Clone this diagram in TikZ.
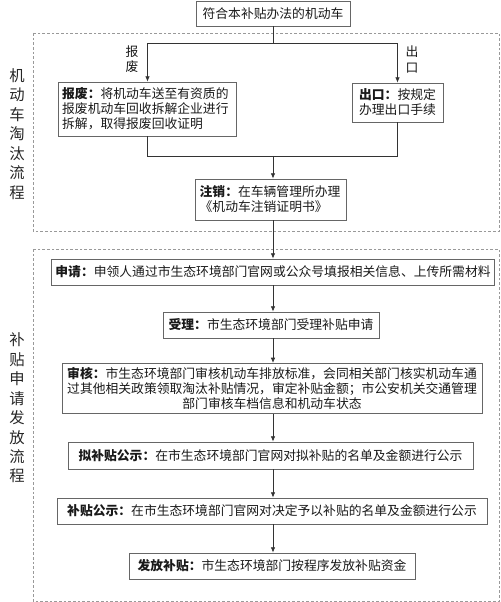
\documentclass[tikz,border=0pt]{standalone}
\usepackage{fontspec}
\setmainfont{Noto Sans CJK SC}
\usepackage{tikz}
\usetikzlibrary{arrows.meta, positioning, calc}

\begin{document}
\begin{tikzpicture}[x=0.75pt,y=-0.75pt,
	box/.style={draw=black!60, line width=0.6pt, inner sep=3pt, text=black!90, font=\fontsize{9.6}{11.3}\selectfont},
	flow/.style={draw=black!80, line width=0.6pt, -{Latex[length=4pt,width=3.5pt]}},
	link/.style={draw=black!80, line width=0.6pt},
	region/.style={draw=black!40, dash pattern=on 2pt off 1.5pt, line width=0.6pt},
	branch/.style={align=center, text=black!90, font=\fontsize{9.6}{11.3}\selectfont},
	side/.style={align=center, text=black!85, font=\fontsize{11.5}{14.6}\selectfont}]
	\useasboundingbox (0,0) rectangle (500,602);
	
	% regions
	\draw[region] (33,33) rectangle (499,231);
	\draw[region] (33,249) rectangle (499,601);
	\node(sideA) [side] at (17,134) {机\\动\\车\\淘\\汰\\流\\程};
	\node(sideB) [side] at (17,408) {补\\贴\\申\\请\\发\\放\\流\\程};
	
	% first stage
	\node(car) [box, minimum width=115.5pt, minimum height=18.75pt] at (273,13.5) {符合本补贴办法的机动车};
	\node(scrap) [box, text width=128pt, align=left, minimum height=40.5pt] at (147.5,109) {\textbf{报废：}将机动车送至有资质的\\报废机动车回收拆解企业进行\\拆解，取得报废回收证明};
	\node(export) [box, minimum width=68.25pt, minimum height=29.25pt, align=center] at (397.5,102.5) {\textbf{出口：}按规定\\办理出口手续};
	\node(cancel) [box, text width=107pt, align=left, minimum height=30.75pt] at (271,199.5) {\textbf{注销：}在车辆管理所办理\\《机动车注销证明书》};
	\node(lscrap) [branch] at (132,59.5) {报\\废};
	\node(lexport) [branch] at (412,59.5) {出\\口};
	\coordinate(split) at (273,43);
	\coordinate(join) at (273,156);
	
	% second stage
	\node(apply) [box, minimum width=330pt, minimum height=19.5pt] at (273,272) {\textbf{申请：}申领人通过市生态环境部门官网或公众号填报相关信息、上传所需材料};
	\node(accept) [box, minimum width=162pt, minimum height=19.5pt] at (271,325) {\textbf{受理：}市生态环境部门受理补贴申请};
	\node(review) [box, minimum width=315pt, minimum height=36.75pt, align=center] at (272,388.5) {\textbf{审核：}市生态环境部门审核机动车排放标准，会同相关部门核实机动车通\\过其他相关政策领取淘汰补贴情况，审定补贴金额；市公安机关交通管理\\部门审核车档信息和机动车状态};
	\node(draft) [box, minimum width=303.75pt, minimum height=20.25pt] at (270.5,455.5) {\textbf{拟补贴公示：}在市生态环境部门官网对拟补贴的名单及金额进行公示};
	\node(notice) [box, minimum width=322.5pt, minimum height=19.5pt] at (272,511) {\textbf{补贴公示：}在市生态环境部门官网对决定予以补贴的名单及金额进行公示};
	\node(pay) [box, minimum width=214.5pt, minimum height=19.5pt] at (272,566) {\textbf{发放补贴：}市生态环境部门按程序发放补贴资金};
	
	% connectors
	\draw[link] (car.south) -- (split);
	\draw[flow] (split) -| (scrap.north);
	\draw[flow] (split) -| (export.north);
	\draw[link] (scrap.south) |- (join);
	\draw[link] (export.south) |- (join);
	\draw[flow] (join) -- (join |- cancel.north);
	\draw[flow] (join |- cancel.south) -- (join |- apply.north);
	\draw[flow] (join |- apply.south) -- (join |- accept.north);
	\draw[flow] (join |- accept.south) -- (join |- review.north);
	\draw[flow] (join |- review.south) -- (join |- draft.north);
	\draw[flow] (join |- draft.south) -- (join |- notice.north);
	\draw[flow] (join |- notice.south) -- (join |- pay.north);
\end{tikzpicture}
\end{document}
